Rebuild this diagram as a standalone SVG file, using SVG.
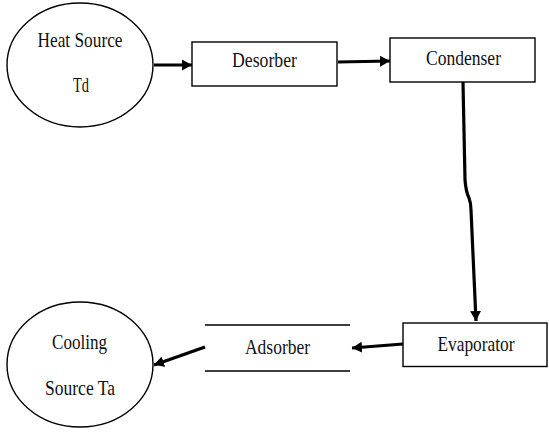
<svg xmlns="http://www.w3.org/2000/svg" width="549" height="440" viewBox="0 0 549 440">
<defs>
<marker id="ah" markerUnits="userSpaceOnUse" markerWidth="12" markerHeight="11" refX="10" refY="5.5" orient="auto">
<path d="M0,0 L10,5.5 L0,11 Z" fill="#000"/>
</marker>
<style>
.shape{fill:#fff;stroke:#000;stroke-width:1.4}
.edge{fill:none;stroke:#000;stroke-width:3.2;marker-end:url(#ah)}
.t{font-family:"Times New Roman","Liberation Serif","DejaVu Serif",serif;font-size:22px;fill:#111;text-anchor:middle}
</style>
</defs>
<rect width="549" height="440" fill="#fff"/>
<g id="heat-source">
<ellipse class="shape" cx="80" cy="65" rx="73" ry="62"/>
<text class="t" x="80" y="47" textLength="85" lengthAdjust="spacingAndGlyphs">Heat Source</text>
<text class="t" x="81" y="92" textLength="16" lengthAdjust="spacingAndGlyphs">Td</text>
</g>
<g id="desorber">
<rect class="shape" x="192" y="42" width="145" height="44"/>
<text class="t" x="264.5" y="67" textLength="65" lengthAdjust="spacingAndGlyphs">Desorber</text>
</g>
<g id="condenser">
<rect class="shape" x="390" y="38" width="145" height="44"/>
<text class="t" x="463.5" y="65" textLength="75" lengthAdjust="spacingAndGlyphs">Condenser</text>
</g>
<g id="evaporator">
<rect class="shape" x="403" y="323" width="144" height="43.5"/>
<text class="t" x="476" y="351" textLength="77" lengthAdjust="spacingAndGlyphs">Evaporator</text>
</g>
<g id="adsorber">
<line x1="205" y1="325" x2="350" y2="325" stroke="#000" stroke-width="1.4"/>
<line x1="205" y1="371" x2="350" y2="371" stroke="#000" stroke-width="1.4"/>
<text class="t" x="277.5" y="354" textLength="65" lengthAdjust="spacingAndGlyphs">Adsorber</text>
</g>
<g id="cooling-source">
<ellipse class="shape" cx="80" cy="364.5" rx="73" ry="62.5"/>
<text class="t" x="79.5" y="349" textLength="55" lengthAdjust="spacingAndGlyphs">Cooling</text>
<text class="t" x="80" y="394.5" textLength="70" lengthAdjust="spacingAndGlyphs">Source Ta</text>
</g>
<g id="connectors">
<path class="edge" d="M154,65 L192,65"/>
<path class="edge" d="M338,62 L390,61"/>
<path class="edge" d="M463,82 L465,180 Q466,192 469,198 Q471,203 471,210 L476,321"/>
<path class="edge" d="M403,344 L352,348"/>
<path class="edge" d="M205,347 L154,365"/>
</g>
</svg>
